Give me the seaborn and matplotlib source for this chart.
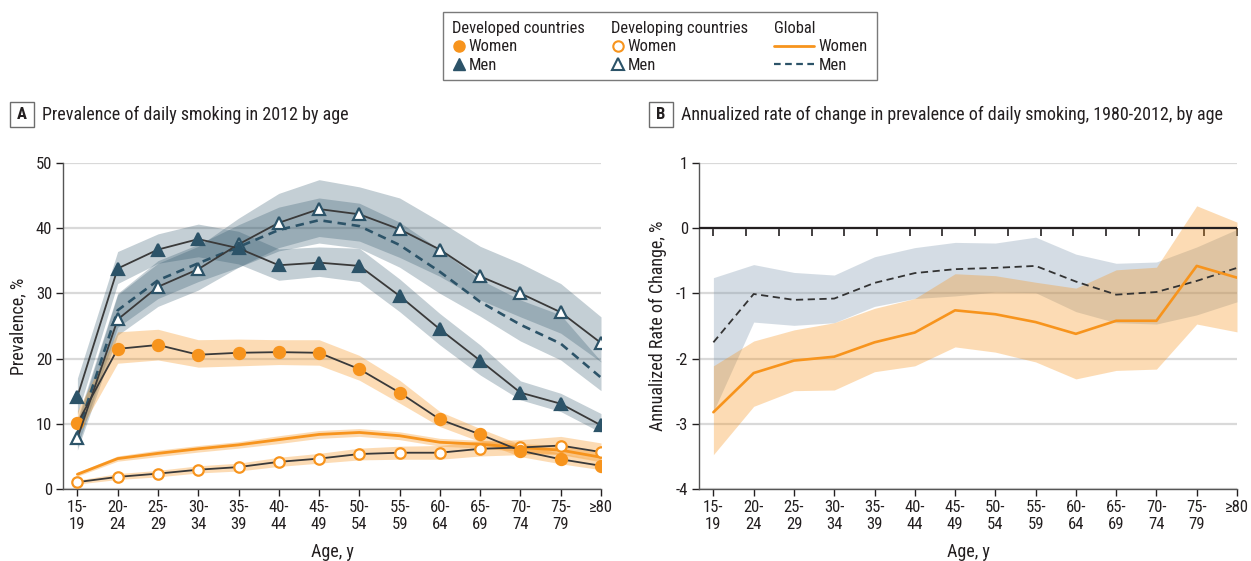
import numpy as np
import matplotlib
matplotlib.use("Agg")
import matplotlib.pyplot as plt
from matplotlib.lines import Line2D
from matplotlib.patches import Rectangle
import seaborn as sns

# ---- data ---------------------------------------------------------------
ages = ["15-\n19", "20-\n24", "25-\n29", "30-\n34", "35-\n39", "40-\n44", "45-\n49",
        "50-\n54", "55-\n59", "60-\n64", "65-\n69", "70-\n74", "75-\n79", "\u226580"]

# Panel A: prevalence of daily smoking in 2012, %
developed_women = [10.1, 21.5, 22.1, 20.6, 20.9, 21.0, 20.9, 18.4, 14.8, 10.7, 8.4, 5.9, 4.6, 3.6]
developed_women_lo = [8.3, 19.3, 19.8, 18.7, 18.9, 19.1, 19.0, 16.7, 13.2, 9.6, 7.3, 5.0, 3.9, 3.0]
developed_women_hi = [12.0, 24.1, 24.5, 22.9, 23.0, 22.9, 22.9, 20.5, 16.7, 11.9, 9.3, 6.9, 5.5, 4.4]

developed_men = [14.2, 33.8, 36.7, 38.3, 36.9, 34.3, 34.7, 34.2, 29.6, 24.5, 19.7, 14.8, 13.1, 9.8]
developed_men_lo = [11.5, 31.5, 34.6, 35.6, 34.5, 32.0, 32.6, 31.8, 27.2, 22.1, 17.5, 13.7, 11.9, 8.7]
developed_men_hi = [17.0, 36.4, 39.1, 40.6, 39.5, 36.8, 37.1, 36.9, 32.2, 26.9, 22.1, 16.6, 14.7, 11.6]

developing_women = [1.1, 1.9, 2.4, 3.0, 3.4, 4.2, 4.7, 5.4, 5.6, 5.6, 6.2, 6.4, 6.7, 5.7]
developing_women_lo = [0.8, 1.5, 1.9, 2.5, 2.8, 3.5, 4.0, 4.5, 4.6, 4.6, 5.1, 5.3, 5.4, 4.4]
developing_women_hi = [1.4, 2.4, 2.9, 3.6, 4.0, 4.9, 5.5, 6.3, 6.6, 6.7, 7.4, 7.6, 8.1, 7.1]

developing_men = [7.8, 26.0, 31.0, 33.7, 37.5, 40.8, 42.9, 42.1, 39.8, 36.7, 32.6, 30.0, 27.1, 22.4]
developing_men_lo = [6.0, 23.6, 28.0, 30.5, 34.0, 37.0, 38.7, 38.0, 35.5, 32.6, 29.0, 26.4, 23.9, 19.5]
developing_men_hi = [10.3, 29.8, 34.6, 37.2, 41.5, 45.3, 47.4, 46.3, 44.6, 41.0, 37.2, 34.6, 31.5, 26.4]

global_women = [2.3, 4.7, 5.5, 6.2, 6.8, 7.6, 8.4, 8.7, 8.2, 7.2, 6.9, 6.4, 6.0, 4.9]
global_women_lo = [2.0, 4.3, 5.0, 5.7, 6.3, 7.0, 7.8, 8.1, 7.6, 6.6, 6.3, 5.8, 5.3, 4.2]
global_women_hi = [2.6, 5.1, 6.0, 6.7, 7.3, 8.2, 9.0, 9.3, 8.8, 7.8, 7.5, 7.0, 6.7, 5.6]

global_men = [8.6, 27.4, 32.0, 34.6, 37.1, 39.7, 41.2, 40.3, 37.4, 33.3, 28.7, 25.2, 22.3, 17.1]
global_men_lo = [6.5, 24.8, 29.2, 31.8, 34.0, 36.5, 37.7, 36.9, 34.0, 30.0, 26.5, 22.7, 19.8, 15.1]
global_men_hi = [10.8, 30.0, 35.0, 37.5, 40.5, 43.2, 44.6, 43.8, 40.9, 36.7, 32.1, 29.0, 26.7, 19.6]

# Panel B: annualized rate of change 1980-2012, %
rate_men = [-1.75, -1.01, -1.10, -1.08, -0.84, -0.69, -0.63, -0.61, -0.58, -0.82, -1.02, -0.98, -0.81, -0.61]
rate_men_lo = [-2.81, -1.44, -1.49, -1.45, -1.20, -1.08, -1.04, -0.98, -0.99, -1.28, -1.45, -1.47, -1.33, -1.13]
rate_men_hi = [-0.76, -0.56, -0.68, -0.72, -0.44, -0.30, -0.22, -0.23, -0.14, -0.40, -0.54, -0.52, -0.29, -0.02]

rate_women = [-2.82, -2.22, -2.03, -1.97, -1.75, -1.60, -1.26, -1.32, -1.44, -1.62, -1.42, -1.42, -0.58, -0.76]
rate_women_lo = [-3.47, -2.73, -2.49, -2.48, -2.20, -2.11, -1.82, -1.90, -2.05, -2.31, -2.18, -2.16, -1.47, -1.59]
rate_women_hi = [-2.11, -1.73, -1.56, -1.45, -1.23, -1.08, -0.70, -0.73, -0.83, -0.92, -0.64, -0.60, 0.34, 0.09]

# ---- style --------------------------------------------------------------
sns.set_theme(style="white")
plt.rcParams["font.family"] = ["Roboto Condensed", "Liberation Sans Narrow", "Lato", "DejaVu Sans"]
plt.rcParams["axes.unicode_minus"] = False

ORANGE = "#F7941D"
TEAL = "#2C5368"
INK = "#231F20"
GRID = "#D9D9D9"
SPINE = "#555555"
LINE = "#3A3A3A"
FS_TICK = 12
FS_LABEL = 13
FS_TITLE = 13
FS_LEG = 11.9

x = np.arange(len(ages))

fig = plt.figure(figsize=(12.51, 5.61), dpi=100)
axA = fig.add_axes([63.3 / 1251, 1 - 489.3 / 561, (601 - 63.3) / 1251, 326.6 / 561])
axB = fig.add_axes([699.3 / 1251, 1 - 489.3 / 561, (1237 - 699.3) / 1251, 326.6 / 561])


def style_axes(ax):
    ax.set_xlim(-0.35, 13)
    ax.set_xticks(x)
    ax.set_xticklabels(ages, linespacing=1.1)
    ax.yaxis.grid(True, color=GRID, lw=1.6)
    ax.xaxis.grid(False)
    ax.set_axisbelow(True)
    for s in ("top", "right"):
        ax.spines[s].set_visible(False)
    for s in ("left", "bottom"):
        ax.spines[s].set_color(SPINE)
        ax.spines[s].set_linewidth(1.0)
    ax.tick_params(axis="both", which="major", direction="out", length=5, width=1,
                   color=INK, labelcolor=INK, labelsize=FS_TICK, pad=3,
                   bottom=True, left=True)
    ax.set_xlabel("Age, y", fontsize=FS_LABEL, color=INK, labelpad=8)


def band(ax, lo, hi, color, alpha):
    ax.fill_between(x, lo, hi, color=color, alpha=alpha, lw=0)


# ---- panel A ------------------------------------------------------------
band(axA, developing_men_lo, developing_men_hi, TEAL, 0.28)
band(axA, global_men_lo, global_men_hi, TEAL, 0.28)
band(axA, developed_men_lo, developed_men_hi, TEAL, 0.28)
band(axA, developed_women_lo, developed_women_hi, ORANGE, 0.33)
band(axA, developing_women_lo, developing_women_hi, ORANGE, 0.33)
band(axA, global_women_lo, global_women_hi, ORANGE, 0.33)

sns.lineplot(x=x, y=global_women, ax=axA, color=ORANGE, lw=2.0, zorder=3)
sns.lineplot(x=x, y=global_men, ax=axA, color=TEAL, lw=1.9,
             linestyle=(0, (3.2, 2.2)), zorder=3)

series = [
    (developing_women, "o", "white", ORANGE, 7.5),
    (developed_women, "o", ORANGE, ORANGE, 8.0),
    (developing_men, "^", "white", TEAL, 8.5),
    (developed_men, "^", TEAL, TEAL, 8.5),
]
for vals, mk, fc, ec, ms in series:
    sns.lineplot(x=x, y=vals, ax=axA, color=LINE, lw=1.3, marker=mk, markersize=ms,
                 markerfacecolor=fc, markeredgecolor=ec, markeredgewidth=1.6, zorder=4)

axA.set_ylim(0, 50)
axA.set_yticks([0, 10, 20, 30, 40, 50])
axA.set_ylabel("Prevalence, %", fontsize=FS_LABEL, color=INK, labelpad=6)
style_axes(axA)

# ---- panel B ------------------------------------------------------------
band(axB, rate_men_lo, rate_men_hi, "#7E97AE", 0.33)
band(axB, rate_women_lo, rate_women_hi, ORANGE, 0.33)
sns.lineplot(x=x, y=rate_men, ax=axB, color="#333333", lw=1.3,
             linestyle=(0, (4, 2.5)), zorder=3)
sns.lineplot(x=x, y=rate_women, ax=axB, color=ORANGE, lw=1.9, zorder=3)

axB.set_ylim(-4, 1)
axB.set_yticks([-4, -3, -2, -1, 0, 1])
axB.set_ylabel("Annualized Rate of Change, %", fontsize=FS_LABEL, color=INK, labelpad=6)
style_axes(axB)

# reference line at zero with its own tick marks
axB.axhline(0, color=INK, lw=1.6, zorder=2.6)
zero_axis = axB.secondary_xaxis(0.8)
zero_axis.set_xticks(np.linspace(0, 13, 17))
zero_axis.tick_params(direction="in", length=6, width=1.2, color=INK, labeltop=False, pad=0)
zero_axis.spines["top"].set_visible(False)

# ---- panel titles -------------------------------------------------------
def panel_title(letter, box_left_px, text):
    fig.patches.append(Rectangle((box_left_px / 1251, 1 - 127 / 561), 24 / 1251, 25 / 561,
                                 transform=fig.transFigure, fill=False, ec="#6d6d6d", lw=1.0))
    fig.text((box_left_px + 12) / 1251, 1 - 114.5 / 561, letter, ha="center", va="center",
             fontsize=FS_TICK, fontweight="bold", color=INK)
    fig.text((box_left_px + 32) / 1251, 1 - 115 / 561, text, ha="left", va="center",
             fontsize=FS_TITLE, color=INK)


panel_title("A", 10, "Prevalence of daily smoking in 2012 by age")
panel_title("B", 649, "Annualized rate of change in prevalence of daily smoking, 1980-2012, by age")

# ---- legend -------------------------------------------------------------
fig.patches.append(Rectangle((442.5 / 1251, 1 - 80 / 561), 434 / 1251, 67.5 / 561,
                             transform=fig.transFigure, fill=False, ec="#7a7a7a", lw=1.0))

leg_groups = [
    ("Developed countries", 452,
     [Line2D([], [], ls="none", marker="o", ms=8, mfc=ORANGE, mec=ORANGE),
      Line2D([], [], ls="none", marker="^", ms=8, mfc=TEAL, mec=TEAL)], 0.8, 0.2),
    ("Developing countries", 611,
     [Line2D([], [], ls="none", marker="o", ms=7.5, mfc="white", mec=ORANGE, mew=1.5),
      Line2D([], [], ls="none", marker="^", ms=8, mfc="white", mec=TEAL, mew=1.5)], 0.8, 0.2),
    ("Global", 774,
     [Line2D([], [], color=ORANGE, lw=2),
      Line2D([], [], color=TEAL, lw=1.6, linestyle=(0, (3, 2)))], 2.4, 0.3),
]
for title, left_px, handles, hl, pad in leg_groups:
    leg = fig.legend(handles, ["Women", "Men"], title=title, loc="upper left",
                     bbox_to_anchor=(left_px / 1251, 1 - 21 / 561), frameon=False,
                     alignment="left", handlelength=hl, handletextpad=pad,
                     borderpad=0, borderaxespad=0, labelspacing=0.2,
                     fontsize=FS_LEG, title_fontsize=FS_LEG, labelcolor=INK)
    leg.get_title().set_color(INK)

fig.savefig("out.png", dpi=100)
